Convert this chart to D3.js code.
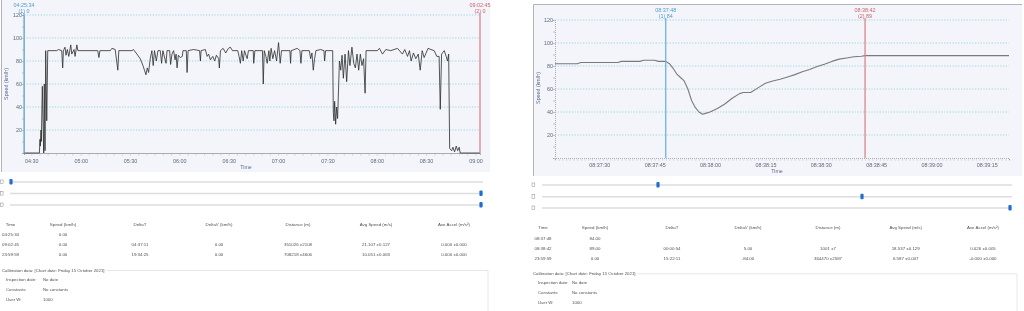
<!DOCTYPE html>
<html>
<head>
<meta charset="utf-8">
<script src="https://cdn.jsdelivr.net/npm/d3@7"></script>
<style>
  body { margin: 0; background: #fff; }
  #chart { will-change: transform; opacity: 0.999; }
  svg text { font-family: "Liberation Sans", Arial, sans-serif; }
</style>
</head>
<body>
<svg id="chart" width="1024" height="311"></svg>
<script>
// ---- data ----
var leftTimes = [
  "04:25:34","04:34:54","04:35:18","04:35:30","04:35:54","04:36:06","04:36:42","04:37:06","04:37:33","04:37:54",
  "04:38:21","04:38:46","04:39:24","04:40:00","04:45:30","04:46:30","04:48:30","04:49:06","04:49:30","04:50:30",
  "04:51:06","04:51:54","04:52:48","04:54:00","04:54:36","04:56:00","04:56:36","04:57:42","04:58:18","05:10:24",
  "05:11:06","05:11:42","05:18:00","05:19:00","05:21:00","05:22:36","05:23:12","05:31:12","05:32:06","05:34:12",
  "05:36:12","05:37:54","05:38:48","05:39:42","05:40:30","05:41:18","05:42:18","05:43:18","05:44:06","05:44:54",
  "05:46:00","05:47:00","05:48:24","05:49:12","05:50:00","05:51:54","05:52:30","05:54:06","05:54:42","05:55:30",
  "05:56:30","05:57:24","05:58:00","05:58:36","05:59:24","06:00:36","06:01:48","06:02:12","06:04:12","06:04:42",
  "06:05:18","06:08:42","06:12:18","06:12:48","06:13:12","06:15:48","06:16:54","06:17:48","06:18:54","06:20:18",
  "06:21:30","06:22:30","06:23:54","06:24:18","06:25:00","06:26:36","06:28:12","06:29:48","06:31:00","06:32:18",
  "06:35:30","06:36:18","06:37:06","06:37:54","06:38:48","06:39:36","06:41:12","06:42:00","06:44:54","06:45:12",
  "06:45:54","06:50:30","06:51:00","06:51:36","06:52:36","06:53:24","06:54:24","06:55:00","06:55:48","06:56:48",
  "06:57:54","06:59:06","07:00:18","07:01:18","07:02:06","07:07:12","07:07:36","07:08:00","07:11:42","07:13:18",
  "07:13:54","07:14:30","07:19:00","07:19:48","07:20:36","07:21:24","07:22:12","07:23:00","07:25:54","07:27:54",
  "07:28:18","07:28:54","07:33:12","07:33:36","07:34:00","07:34:24","07:35:00","07:35:36","07:36:12","07:37:18",
  "07:38:06","07:38:54","07:39:42","07:40:42","07:41:42","07:42:48","07:43:42","07:44:54","07:46:00","07:47:00",
  "07:48:00","07:49:00","07:50:00","07:51:00","07:52:00","07:52:54","07:53:30","08:00:24","08:01:36","08:03:30",
  "08:05:30","08:08:30","08:12:36","08:15:36","08:17:00","08:18:42","08:19:54","08:20:54","08:22:18","08:23:42",
  "08:25:12","08:26:24","08:27:36","08:28:48","08:30:00","08:31:12","08:32:54","08:34:54","08:36:30","08:37:54",
  "08:38:36","08:39:24","08:41:00","08:42:12","08:43:00","08:43:42","08:44:18","08:45:30","08:46:18","08:47:18",
  "08:48:18","08:49:12","08:50:06","08:50:42","09:02:45"
];
var leftSpeeds = [
  0,0,12,6,20,10,58,30,0,60,
  2,89,28,89,89,90,89,74,89,92,
  85,90,84,94,86,90,84,94,89,89,
  83,89,89,91,90,72,89,89,90,86,
  82,76,72,68,74,70,82,89,76,89,
  80,89,89,78,89,78,89,89,77,86,
  89,81,86,74,85,83,84,89,89,70,
  89,90,89,80,89,90,84,86,81,84,
  80,85,82,74,89,91,87,91,92,89,
  89,84,78,89,80,89,82,89,89,78,
  89,89,60,89,84,78,89,80,91,82,
  89,80,96,78,89,89,78,89,91,89,
  78,89,89,82,87,72,82,89,90,89,
  80,89,89,35,28,45,25,40,30,80,
  72,85,65,86,62,89,76,92,78,74,
  86,72,86,76,82,52,89,89,91,86,
  90,89,91,86,90,84,89,80,87,82,
  86,72,89,83,87,91,90,89,84,84,
  38,86,89,84,80,86,4,2,5,1,
  6,2,5,0,0
];
var rightTimes = [
  "08:37:18","08:37:24","08:37:25","08:37:35","08:37:36","08:37:41","08:37:42","08:37:45","08:37:46","08:37:48",
  "08:37:49","08:37:50","08:37:51","08:37:52","08:37:53","08:37:54","08:37:55","08:37:56","08:37:57","08:37:58",
  "08:37:59","08:38:00","08:38:02","08:38:04","08:38:06","08:38:08","08:38:09","08:38:11","08:38:13","08:38:15",
  "08:38:17","08:38:19","08:38:21","08:38:23","08:38:25","08:38:27","08:38:29","08:38:31","08:38:33","08:38:35",
  "08:38:37","08:38:39","08:38:41","08:38:42","08:39:21"
];
var rightSpeeds = [
  82,82,83,83,84,84,85,85,84,84,
  82,78,73,70,67,60,50,44,40,38,
  39,40,43,47,52,56,57,57,61,65,
  67,68.5,70.5,72.5,75,77,79.5,81.5,84,86,
  87,88,88.5,89,89
];
var speedTicks = [20, 40, 60, 80, 100, 120];
var leftCursorTimes = ["04:25:34", "09:02:45"];
var leftCursorSpeeds = [0, 0];
var rightCursorTimes = ["08:37:48", "08:38:42"];
var rightCursorSpeeds = [84, 89];

var tableHeader = ["Time", "Speed (km/h)", "DeltaT", "DeltaV (km/h)", "Distance (m)", "Avg Speed (m/s)", "Ave Accel (m/s\u00b2)"];
var leftRows = [
  ["04:25:34", "0.00", "", "", "", "", ""],
  ["09:02:45", "0.00", "04:37:11", "0.00", "351026 \u00b12108", "21.107 \u00b10.127", "0.000 \u00b10.000"],
  ["23:59:59", "0.00", "19:34:25", "0.00", "708218 \u00b14606", "10.051 \u00b10.063", "0.000 \u00b10.000"]
];
var rightRows = [
  ["08:37:48", "84.00", "", "", "", "", ""],
  ["08:38:42", "89.00", "00:00:54", "5.00", "1001 \u00b17", "18.537 \u00b10.129", "0.026 \u00b10.005"],
  ["23:59:59", "0.00", "15:22:11", "-84.00", "364470 \u00b12587", "6.587 \u00b10.047", "-0.000 \u00b10.000"]
];
var calibTitle = "Calibration data: [Chart date: Friday 15 October 2021]";
var calibLabels = ["Inspection date:", "Constants:", "User W:"];
var calibValues = ["No date", "No constants", "1000"];

var svg = d3.select("#chart");
var parseTime = d3.timeParse("%H:%M:%S");

var TICK_COLOR = "#5d6878";
var BLUE = "#6cb2dc", RED = "#d9868a";

function drawPanel(p) {
  var g = svg.append("g");

  // chart background + border
  g.append("rect")
    .attr("x", p.box[0]).attr("y", p.box[1])
    .attr("width", p.box[2]).attr("height", p.box[3])
    .attr("fill", "#f4f5fb");
  g.append("path")
    .attr("d", "M" + (p.box[0] + 0.5) + "," + (p.box[1] + p.box[3]) + "V" + (p.box[1] + 0.5) + "H" + (p.box[0] + p.box[2]))
    .attr("fill", "none").attr("stroke", "#b4b4b8").attr("stroke-width", 1);

  var x = d3.scaleTime()
    .domain([parseTime(p.domain[0]), parseTime(p.domain[1])])
    .range([p.x0, p.x1]);
  var y = d3.scaleLinear().domain([0, 120]).range([p.y0, p.y0 - 138]);

  // dotted grid
  g.append("g").selectAll("line")
    .data(speedTicks)
    .enter().append("line")
    .attr("x1", p.x0).attr("x2", p.x1)
    .attr("y1", function(d) { return y(d); })
    .attr("y2", function(d) { return y(d); })
    .attr("stroke", "#84cfdc")
    .attr("stroke-width", 0.8)
    .attr("stroke-dasharray", "1.2,1.6");

  // x axis: minor ticks
  var minor = g.append("g")
    .attr("transform", "translate(0," + p.y0 + ")")
    .call(d3.axisBottom(x).ticks(p.minorTicks).tickSize(2).tickFormat(""));
  minor.select(".domain")
    .attr("stroke", "#a9adb3")
    .attr("stroke-dasharray", p.dottedAxis ? "1,1" : null);
  minor.selectAll(".tick line").attr("stroke", "#9aa0a8").attr("stroke-width", 0.6)
    .attr("y1", 1.5).attr("y2", 2.5);

  // x axis: labels
  var major = g.append("g")
    .attr("transform", "translate(0," + p.y0 + ")")
    .call(d3.axisBottom(x).ticks(p.majorTicks).tickSize(0).tickFormat(d3.timeFormat(p.tickFormat)));
  major.select(".domain").remove();
  major.selectAll("text")
    .attr("y", p.tickLabelY - p.y0).attr("dy", "0.35em")
    .attr("font-size", 5.4).attr("fill", TICK_COLOR);

  // y axis
  var yMinor = g.append("g")
    .attr("transform", "translate(" + p.x0 + ",0)")
    .call(d3.axisLeft(y).tickValues(d3.range(0, 121, 10)).tickSize(2).tickFormat(""));
  yMinor.select(".domain").attr("stroke", "#a9adb3").attr("stroke-dasharray", p.dottedAxis ? "1,1" : null);
  yMinor.selectAll(".tick line").attr("stroke", "#9aa0a8").attr("stroke-width", 0.6);

  var yAxis = g.append("g")
    .attr("transform", "translate(" + p.x0 + ",0)")
    .call(d3.axisLeft(y).tickValues(speedTicks).tickSize(0).tickPadding(2));
  yAxis.select(".domain").remove();
  yAxis.selectAll("text").attr("font-size", 5.4).attr("fill", TICK_COLOR).attr("dy", "0.35em");

  // axis titles
  g.append("text")
    .attr("transform", "translate(" + p.yTitle[0] + "," + p.yTitle[1] + ") rotate(-90)")
    .attr("text-anchor", "middle").attr("dy", "0.35em")
    .attr("font-size", 5.3).attr("fill", "#5a6f90")
    .text("Speed (km/h)");
  g.append("text")
    .attr("x", p.xTitle[0]).attr("y", p.xTitle[1])
    .attr("text-anchor", "middle").attr("dy", "0.35em")
    .attr("font-size", 5.3).attr("fill", "#5a6f90")
    .text("Time");

  // speed trace
  var pts = p.times.map(function(t, i) { return { t: parseTime(t), v: p.speeds[i] }; });
  g.append("path")
    .datum(pts)
    .attr("fill", "none")
    .attr("stroke", p.lineColor)
    .attr("stroke-width", p.lineWidth)
    .attr("stroke-linejoin", "round")
    .attr("d", d3.line().x(function(d) { return x(d.t); }).y(function(d) { return y(d.v); }));

  // cursors
  var colors = [BLUE, RED];
  var textColors = ["#4f9bd0", "#cf5f66"];
  p.cursorTimes.forEach(function(t, i) {
    var cx = x(parseTime(t));
    g.append("line")
      .attr("x1", cx).attr("x2", cx)
      .attr("y1", y(120) - 2).attr("y2", p.y0)
      .attr("stroke", colors[i]).attr("stroke-width", 1.3);
    g.append("text")
      .attr("x", cx).attr("y", y(120) - 10).attr("dy", "0.35em")
      .attr("text-anchor", "middle").attr("font-size", 5.4).attr("fill", textColors[i])
      .text(t);
    g.append("text")
      .attr("x", cx).attr("y", y(120) - 3.8).attr("dy", "0.35em")
      .attr("text-anchor", "middle").attr("font-size", 5.4).attr("fill", textColors[i])
      .text("(" + (i + 1) + ") " + p.cursorSpeeds[i]);
  });

  // sliders
  p.sliderY.forEach(function(sy, i) {
    g.append("rect")
      .attr("x", p.checkX).attr("y", sy - 2).attr("width", 2.8).attr("height", 3.6)
      .attr("fill", "#fff").attr("stroke", "#8a8f96").attr("stroke-width", 0.5);
    g.append("line")
      .attr("x1", p.trackX[0]).attr("x2", p.trackX[1])
      .attr("y1", sy).attr("y2", sy)
      .attr("stroke", "#dcdde0").attr("stroke-width", 1.4);
    g.append("rect")
      .attr("x", p.thumbX[i] - 1.6).attr("y", sy - 3).attr("width", 3.2).attr("height", 5.5)
      .attr("rx", 1).attr("fill", "#1f6fd1");
  });

  // readings table
  var tbl = g.append("g").attr("font-size", 4.4).attr("fill", "#505050").attr("text-anchor", "middle");
  tableHeader.forEach(function(h, c) {
    tbl.append("text").attr("x", p.cols[c]).attr("y", p.rowY[0]).attr("dy", "0.35em").text(h);
  });
  p.rows.forEach(function(row, r) {
    row.forEach(function(cell, c) {
      if (cell === "") return;
      tbl.append("text").attr("x", p.cols[c]).attr("y", p.rowY[r + 1]).attr("dy", "0.35em").text(cell);
    });
  });

  // calibration box
  var cal = g.append("g").attr("font-size", 4.3).attr("fill", "#505050");
  var title = cal.append("text")
    .attr("x", p.calib.x).attr("y", p.calib.y).attr("dy", "0.35em").text(calibTitle);
  var tw = title.node().getComputedTextLength();
  cal.append("path")
    .attr("d", "M" + (p.calib.x + tw + 2) + "," + (p.calib.y + 0.5) + "H" + p.calib.right + "V311")
    .attr("fill", "none").attr("stroke", "#e2e2e4").attr("stroke-width", 0.8);
  calibLabels.forEach(function(l, i) {
    var ry = p.calib.y + 9.5 + i * 10;
    cal.append("text").attr("x", p.calib.labelX).attr("y", ry).attr("dy", "0.35em").text(l);
    cal.append("text").attr("x", p.calib.valueX).attr("y", ry).attr("dy", "0.35em").text(calibValues[i]);
  });
}

drawPanel({
  box: [1, -1, 489, 173],
  domain: ["04:25:34", "09:02:45"],
  x0: 24, x1: 480, y0: 153,
  majorTicks: d3.timeMinute.every(30),
  minorTicks: d3.timeMinute.every(5),
  tickFormat: "%H:%M",
  tickLabelY: 161,
  dottedAxis: false,
  yTitle: [6, 84], xTitle: [246, 167],
  times: leftTimes, speeds: leftSpeeds,
  lineColor: "#2b2b2b", lineWidth: 0.8,
  cursorTimes: leftCursorTimes, cursorSpeeds: leftCursorSpeeds,
  sliderY: [182, 193.5, 205], checkX: 0.3, trackX: [10, 483], thumbX: [11, 481, 481],
  cols: [10.5, 63, 140, 219, 298, 376, 454],
  rowY: [224.3, 234.3, 244.3, 254.3],
  rows: leftRows,
  calib: { x: 2, y: 270, right: 488, labelX: 6, valueX: 43 }
});

drawPanel({
  box: [533, 4, 489, 172],
  domain: ["08:37:18", "08:39:21"],
  x0: 555, x1: 1009, y0: 158,
  majorTicks: d3.timeSecond.every(15),
  minorTicks: d3.timeSecond.every(1),
  tickFormat: "%H:%M:%S",
  tickLabelY: 165,
  dottedAxis: true,
  yTitle: [538, 88], xTitle: [777, 171],
  times: rightTimes, speeds: rightSpeeds,
  lineColor: "#7a7a7e", lineWidth: 1.1,
  cursorTimes: rightCursorTimes, cursorSpeeds: rightCursorSpeeds,
  sliderY: [185, 196.7, 208], checkX: 532, trackX: [542, 1012], thumbX: [658, 862, 1010],
  cols: [543, 595, 672, 748, 828, 905.7, 983],
  rowY: [227.3, 238.3, 248.3, 258.3],
  rows: rightRows,
  calib: { x: 533, y: 273.3, right: 1017, labelX: 538, valueX: 572 }
});
</script>
</body>
</html>
